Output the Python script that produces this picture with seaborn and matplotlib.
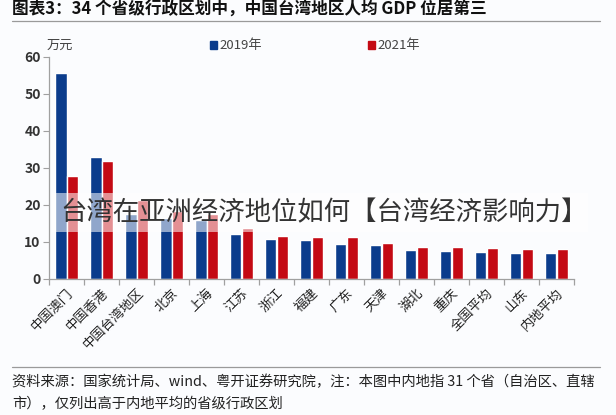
import numpy as np
import pandas as pd
import seaborn as sns
import matplotlib.pyplot as plt
from matplotlib.lines import Line2D
from matplotlib.ticker import FixedLocator

# data (万元)
regions = ['中国澳门', '中国香港', '中国台湾地区', '北京', '上海', '江苏', '浙江',
           '福建', '广东', '天津', '湖北', '重庆', '全国平均', '山东', '内地平均']
gdp_2019 = [55.5, 32.8, 17.5, 16.4, 15.8, 12.2, 10.7, 10.5, 9.5, 9.0,
            7.7, 7.5, 7.2, 6.9, 6.9]
gdp_2021 = [27.8, 31.8, 21.2, 18.4, 17.4, 13.7, 11.6, 11.3, 11.2, 9.7,
            8.6, 8.6, 8.3, 8.1, 8.0]
years = ['2019年', '2021年']
colors = ['#0b3c8c', '#c40a14']

df = pd.DataFrame({'region': regions * 2,
                   'year': [years[0]] * len(regions) + [years[1]] * len(regions),
                   'gdp': gdp_2019 + gdp_2021})

sns.set_style('white')
plt.rcParams['font.family'] = ['Noto Sans CJK SC', 'DejaVu Sans']

fig = plt.figure(figsize=(6.16, 4.15), dpi=100)
fig.patch.set_facecolor('#fbfcfe')
ax = fig.add_axes([49 / 616, 1 - 278.7 / 415, 525 / 616, 222 / 415])
ax.set_facecolor('#fbfcfe')

sns.barplot(data=df, x='region', y='gdp', hue='year', palette=colors,
            width=0.68, gap=0.04, ax=ax, legend=False, saturation=1)

ax.set_xlim(-0.51, len(regions) - 0.5)
ax.set_ylim(0, 60)
ax.set_yticks(range(0, 61, 10))
ax.set_xlabel('')
ax.set_ylabel('')
for s in ['top', 'right']:
    ax.spines[s].set_visible(False)
for s in ['left', 'bottom']:
    ax.spines[s].set_color('#a0a0a0')
    ax.spines[s].set_linewidth(0.9)

ax.tick_params(axis='y', left=True, length=4, color='#a0a0a0',
               labelsize=10, labelcolor='#333333', pad=2)
for lab in ax.get_yticklabels():
    lab.set_fontweight('bold')
ax.tick_params(axis='x', which='major', bottom=False, labelsize=9.5,
               labelcolor='#222222', pad=2)
ax.xaxis.set_minor_locator(FixedLocator(np.arange(-0.5, len(regions), 1)))
ax.tick_params(axis='x', which='minor', bottom=True, length=4,
               color='#a0a0a0', width=0.9)
plt.setp(ax.get_xticklabels(), rotation=45, ha='right', rotation_mode='anchor')

# unit and legend
fig.text(47 / 616, 1 - 45 / 415, '万元', fontsize=9.5, color='#444444',
         va='center')
for i, (y, c) in enumerate(zip(years, colors)):
    x0 = [210, 368][i] / 616
    fig.patches.append(plt.Rectangle((x0, 1 - 49 / 415), 7 / 616, 8 / 415,
                                     transform=fig.transFigure, color=c))
    fig.text(x0 + 9 / 616, 1 - 45 / 415, y, fontsize=9.5, color='#444444',
             va='center')

# title and footer
fig.text(12 / 616, 1 - 10 / 415,
         '图表3：34 个省级行政区划中，中国台湾地区人均 GDP 位居第三',
         fontsize=12, fontweight='bold', color='#111111', va='center')
fig.add_artist(Line2D([12 / 616, 600 / 616], [1 - 21 / 415, 1 - 21 / 415],
                      color='#9a9a9a', lw=0.9))
fig.add_artist(Line2D([12 / 616, 600 / 616], [1 - 367 / 415, 1 - 367 / 415],
                      color='#9a9a9a', lw=0.9))
fig.text(12 / 616, 1 - 382 / 415,
         '资料来源：国家统计局、wind、粤开证券研究院，注：本图中内地指 31 个省（自治区、直辖',
         fontsize=10.3, color='#222222', va='center')
fig.text(12 / 616, 1 - 404 / 415, '市），仅列出高于内地平均的省级行政区划',
         fontsize=10.3, color='#222222', va='center')

# watermark band
fig.patches.append(plt.Rectangle((52 / 616, 1 - 232 / 415), 536 / 616,
                                 39 / 415, transform=fig.transFigure,
                                 facecolor='white', edgecolor='none',
                                 alpha=0.55, zorder=5))
fig.text(60 / 616, 1 - 213 / 415, '台湾在亚洲经济地位如何【台湾经济影响力】',
         fontsize=19, color='#333333', va='center', fontweight='light',
         zorder=6)

fig.savefig('out.png', dpi=100, facecolor=fig.get_facecolor())
